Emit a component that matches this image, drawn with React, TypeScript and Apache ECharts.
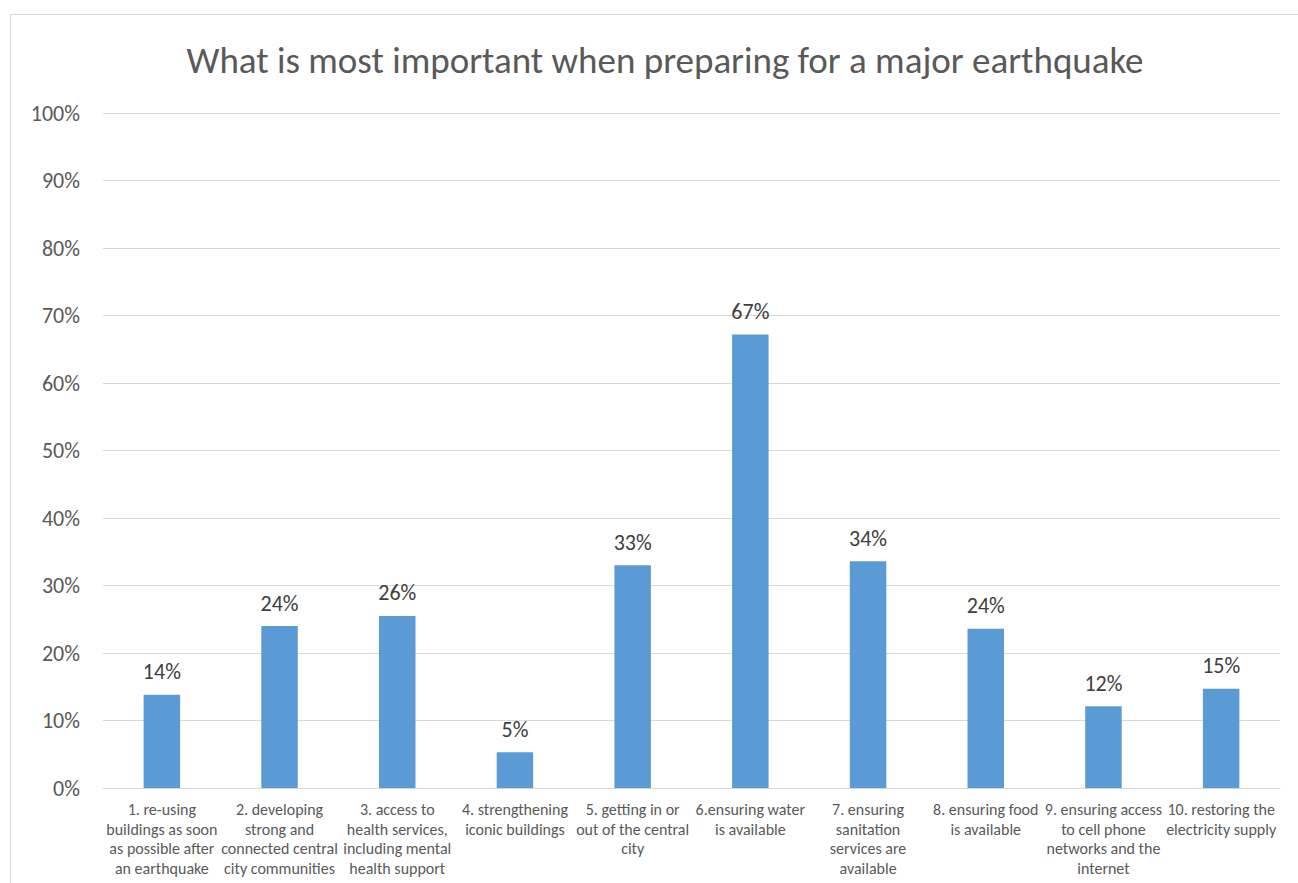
import React, { useEffect, useRef } from "react";
import * as echarts from "echarts";

const categories = [
  "1. re-using\nbuildings as soon\nas possible after\nan earthquake",
  "2. developing\nstrong and\nconnected central\ncity communities",
  "3. access to\nhealth services,\nincluding mental\nhealth support",
  "4. strengthening\niconic buildings",
  "5. getting in or\nout of the central\ncity",
  "6.ensuring water\nis available",
  "7. ensuring\nsanitation\nservices are\navailable",
  "8. ensuring food\nis available",
  "9. ensuring access\nto cell phone\nnetworks and the\ninternet",
  "10. restoring the\nelectricity supply",
];
const values = [0.138, 0.240, 0.255, 0.053, 0.330, 0.672, 0.336, 0.236, 0.121, 0.147];
const titleText = "What is most important when preparing for a major earthquake";

const FONT = "Carlito, 'Liberation Sans Narrow', Lato, sans-serif";

export default function App() {
  const ref = useRef<HTMLDivElement>(null);
  useEffect(() => {
    if (!ref.current) return;
    const chart = echarts.init(ref.current, undefined, { renderer: "svg" });
    chart.setOption({
      animation: false,
      textStyle: { fontFamily: FONT },
      title: {
        text: titleText,
        left: 660,
        textAlign: "center",
        top: 37,
        textStyle: { fontFamily: FONT, fontSize: 37, fontWeight: 300, color: "#595959" },
      },
      graphic: [
        {
          type: "rect",
          shape: { x: 10.5, y: 14.5, width: 1400, height: 1000 },
          style: { fill: "none", stroke: "#d9d9d9", lineWidth: 1 },
          silent: true,
        },
      ],
      grid: { left: 103, right: 18, top: 113, bottom: 95, containLabel: false },
      xAxis: {
        type: "category",
        data: categories,
        axisLine: { lineStyle: { color: "#d9d9d9", width: 1 } },
        axisTick: { show: false },
        axisLabel: {
          interval: 0,
          fontFamily: FONT,
          fontSize: 16,
          lineHeight: 19.5,
          color: "#595959",
          margin: 12,
        },
      },
      yAxis: {
        type: "value",
        min: 0,
        max: 1,
        interval: 0.1,
        axisLine: { show: false },
        axisTick: { show: false },
        splitLine: { lineStyle: { color: "#d9d9d9", width: 1 } },
        axisLabel: {
          fontFamily: FONT,
          fontSize: 22,
          color: "#595959",
          margin: 23,
          formatter: (v: number) => Math.round(v * 100) + "%",
        },
      },
      series: [
        {
          type: "bar",
          data: values,
          barWidth: "31%",
          itemStyle: { color: "#5b9bd5" },
          label: {
            show: true,
            position: "top",
            distance: 12,
            fontFamily: FONT,
            fontSize: 22,
            color: "#404040",
            formatter: (p: any) => Math.round(p.value * 100) + "%",
          },
        },
      ],
    });
    return () => chart.dispose();
  }, []);
  return (
    <div
      ref={ref}
      style={{ position: "fixed", left: 0, top: 0, width: 1298, height: 883, background: "#fff" }}
    />
  );
}
